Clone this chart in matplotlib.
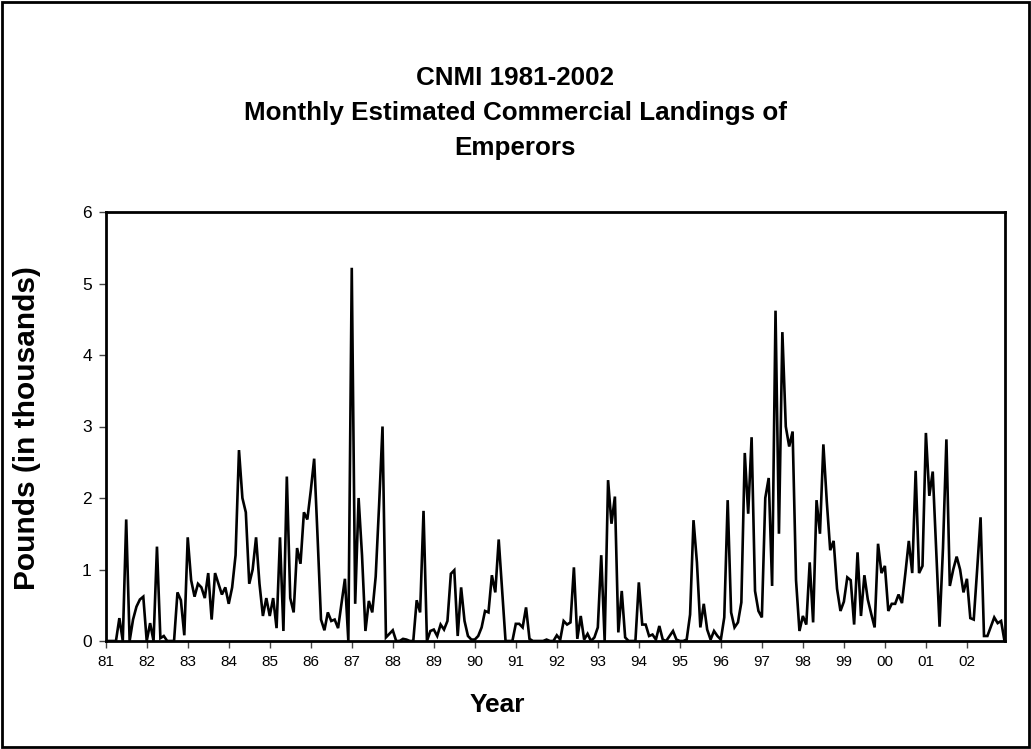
import numpy as np
import matplotlib
matplotlib.use("Agg")
import matplotlib.pyplot as plt
from matplotlib.patches import Rectangle

# Monthly landings (thousands of pounds), Jan 1981 .. Dec 2002
y1981 = [0, 0, 0, 0, 0.32, 0, 1.7, 0, 0.3, 0.48, 0.58, 0.62]
y1982 = [0, 0.25, 0, 1.32, 0.04, 0.07, 0, 0, 0, 0.68, 0.57, 0.08]
y1983 = [1.45, 0.85, 0.62, 0.8, 0.75, 0.6, 0.95, 0.3, 0.95, 0.8, 0.65, 0.75]
y1984 = [0.52, 0.75, 1.2, 2.67, 2.0, 1.8, 0.8, 1.0, 1.45, 0.8, 0.35, 0.6]
y1985 = [0.35, 0.6, 0.18, 1.45, 0.14, 2.3, 0.6, 0.4, 1.3, 1.08, 1.8, 1.7]
y1986 = [2.1, 2.55, 1.45, 0.3, 0.15, 0.4, 0.28, 0.3, 0.18, 0.52, 0.87, 0]
y1987 = [5.22, 0.52, 2.0, 1.2, 0.14, 0.56, 0.4, 0.9, 1.9, 3.0, 0.05, 0.1]
y1988 = [0.15, 0, 0, 0.03, 0.02, 0, 0, 0.57, 0.4, 1.82, 0, 0.14]
y1989 = [0.16, 0.07, 0.23, 0.16, 0.28, 0.94, 0.99, 0.07, 0.75, 0.28, 0.07, 0.02]
y1990 = [0.02, 0.07, 0.19, 0.42, 0.4, 0.92, 0.68, 1.42, 0.7, 0, 0, 0]
y1991 = [0.24, 0.24, 0.19, 0.47, 0.03, 0, 0, 0, 0, 0.02, 0, 0]
y1992 = [0.08, 0.02, 0.28, 0.23, 0.26, 1.03, 0.03, 0.35, 0.02, 0.1, 0, 0.05]
y1993 = [0.19, 1.2, 0, 2.25, 1.64, 2.02, 0.12, 0.7, 0.05, 0, 0, 0]
y1994 = [0.82, 0.23, 0.23, 0.07, 0.09, 0.02, 0.21, 0.02, 0, 0.07, 0.14, 0.02]
y1995 = [0, 0, 0.02, 0.37, 1.69, 1.1, 0.19, 0.52, 0.16, 0.02, 0.14, 0.07]
y1996 = [0.02, 0.33, 1.97, 0.4, 0.19, 0.26, 0.54, 2.63, 1.78, 2.85, 0.7, 0.42]
y1997 = [0.33, 2.0, 2.28, 0.77, 4.62, 1.5, 4.32, 3.0, 2.72, 2.93, 0.85, 0.14]
y1998 = [0.35, 0.23, 1.1, 0.26, 1.97, 1.5, 2.75, 1.95, 1.27, 1.4, 0.73, 0.42]
y1999 = [0.55, 0.89, 0.85, 0.23, 1.24, 0.35, 0.92, 0.58, 0.38, 0.19, 1.36, 0.95]
y2000 = [1.05, 0.42, 0.52, 0.52, 0.65, 0.53, 0.95, 1.4, 0.95, 2.38, 0.95, 1.05]
y2001 = [2.91, 2.03, 2.37, 1.3, 0.2, 1.3, 2.82, 0.77, 1.0, 1.18, 1.0, 0.68]
y2002 = [0.87, 0.32, 0.3, 1.0, 1.73, 0.07, 0.07, 0.2, 0.33, 0.25, 0.28, 0]

years = [y1981, y1982, y1983, y1984, y1985, y1986, y1987, y1988, y1989, y1990, y1991,
         y1992, y1993, y1994, y1995, y1996, y1997, y1998, y1999, y2000, y2001, y2002]
year_labels = ["81", "82", "83", "84", "85", "86", "87", "88", "89", "90", "91",
               "92", "93", "94", "95", "96", "97", "98", "99", "00", "01", "02"]

values = np.concatenate([np.array(v, dtype=float) for v in years])
months = np.arange(len(values))

plt.rcParams['font.family'] = ['Liberation Sans', 'DejaVu Sans']

W, H = 1031, 749
fig = plt.figure(figsize=(W / 100, H / 100), dpi=100)

# outer frame
fig.patches.append(Rectangle((0.002, 0.003), 0.996, 0.994, transform=fig.transFigure,
                             fill=False, edgecolor='black', linewidth=2.0))

left, right, top, bottom = 105.7, 1004.5, 212, 641
ax = fig.add_axes([left / W, 1 - bottom / H, (right - left) / W, (bottom - top) / H])

ax.plot(months, values, color='black', linewidth=1.9, solid_joinstyle='miter')

ax.set_xlim(0, len(values) - 1)
ax.set_ylim(0, 6)
ax.set_yticks(range(0, 7))
ax.set_yticklabels([str(v) for v in range(0, 7)], fontsize=12.5)
ax.set_xticks(np.arange(0, len(values), 12))
ax.set_xticklabels(year_labels, fontsize=11)
ax.tick_params(axis='both', direction='out', length=5, width=1.0, color='#444444')
ax.tick_params(axis='x', pad=5)
ax.tick_params(axis='y', pad=5)
for s in ax.spines.values():
    s.set_linewidth(2.0)
    s.set_color('black')

fig.text(497 / W, 1 - 705 / H, "Year", ha='center', va='center',
         fontsize=19, fontweight='bold')
fig.text(27 / W, 1 - 428 / H, "Pounds (in thousands)", ha='center', va='center',
         rotation=90, fontsize=21.5, fontweight='bold')

title_lines = ["CNMI 1981-2002", "Monthly Estimated Commercial Landings of", "Emperors"]
title_y = [78, 113, 148]
for t, yy in zip(title_lines, title_y):
    fig.text(0.5, 1 - yy / H, t, ha='center', va='center', fontsize=18.7, fontweight='bold')

fig.savefig("out.png", dpi=100)
